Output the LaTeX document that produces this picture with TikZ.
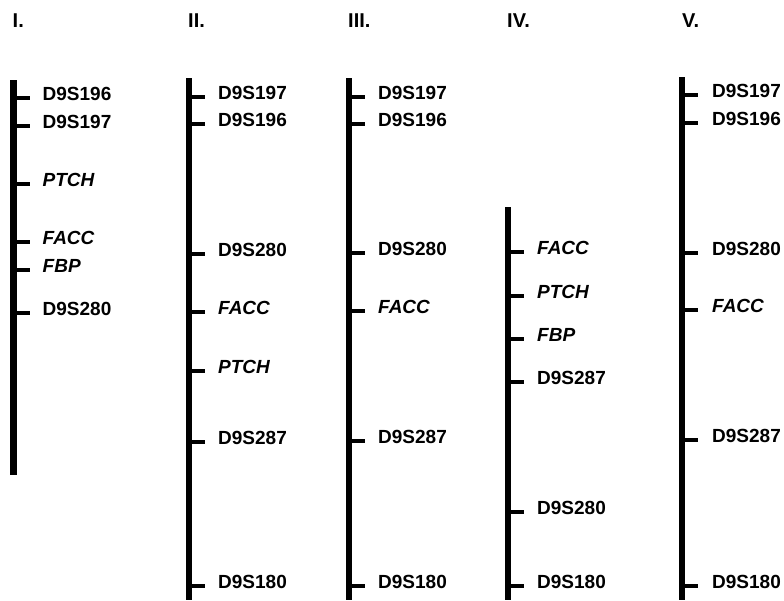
\documentclass[tikz,border=0pt]{standalone}
\usepackage{fontspec}
\setmainfont{Liberation Sans}
\usepackage{tikz}

\begin{document}
\begin{tikzpicture}[x=1pt,y=-1pt,
    bar/.style={line width=6.5pt},
    tick/.style={line width=3.2pt},
    marker/.style={anchor=base west,inner sep=0pt,font=\fontsize{19}{22}\selectfont\bfseries},
    gene/.style={marker,font=\fontsize{19}{22}\selectfont\bfseries\itshape},
    head/.style={anchor=base west,inner sep=0pt,font=\fontsize{20}{24}\selectfont\bfseries}]
    \useasboundingbox (0,0) rectangle (784,600);

    % Map I
    \begin{scope}[xshift=13.5pt]
        \node[head] (h1) at (-1,27) {I.};
        \draw[bar] (0,80) -- (0,475);
        \draw[tick] (0,98) -- (16,98);
        \draw[tick] (0,126) -- (16,126);
        \draw[tick] (0,184) -- (16,184);
        \draw[tick] (0,242) -- (16,242);
        \draw[tick] (0,270) -- (16,270);
        \draw[tick] (0,313) -- (16,313);
        \node[marker] (a1) at (29,100) {D9S196};
        \node[marker] (a2) at (29,128) {D9S197};
        \node[gene] (a3) at (29,186) {PTCH};
        \node[gene] (a4) at (29,244) {FACC};
        \node[gene] (a5) at (29,272) {FBP};
        \node[marker] (a6) at (29,315) {D9S280};
    \end{scope}

    % Map II
    \begin{scope}[xshift=189pt]
        \node[head] (h2) at (-1,27) {II.};
        \draw[bar] (0,78) -- (0,600);
        \draw[tick] (0,97) -- (16,97);
        \draw[tick] (0,124) -- (16,124);
        \draw[tick] (0,254) -- (16,254);
        \draw[tick] (0,312) -- (16,312);
        \draw[tick] (0,371) -- (16,371);
        \draw[tick] (0,442) -- (16,442);
        \draw[tick] (0,586) -- (16,586);
        \node[marker] (b1) at (29,99) {D9S197};
        \node[marker] (b2) at (29,126) {D9S196};
        \node[marker] (b3) at (29,256) {D9S280};
        \node[gene] (b4) at (29,314) {FACC};
        \node[gene] (b5) at (29,373) {PTCH};
        \node[marker] (b6) at (29,444) {D9S287};
        \node[marker] (b7) at (29,588) {D9S180};
    \end{scope}

    % Map III
    \begin{scope}[xshift=349pt]
        \node[head] (h3) at (-1,27) {III.};
        \draw[bar] (0,78) -- (0,600);
        \draw[tick] (0,97) -- (16,97);
        \draw[tick] (0,124) -- (16,124);
        \draw[tick] (0,253) -- (16,253);
        \draw[tick] (0,311) -- (16,311);
        \draw[tick] (0,441) -- (16,441);
        \draw[tick] (0,586) -- (16,586);
        \node[marker] (c1) at (29,99) {D9S197};
        \node[marker] (c2) at (29,126) {D9S196};
        \node[marker] (c3) at (29,255) {D9S280};
        \node[gene] (c4) at (29,313) {FACC};
        \node[marker] (c5) at (29,443) {D9S287};
        \node[marker] (c6) at (29,588) {D9S180};
    \end{scope}

    % Map IV
    \begin{scope}[xshift=508pt]
        \node[head] (h4) at (-1,27) {IV.};
        \draw[bar] (0,207) -- (0,600);
        \draw[tick] (0,252) -- (16,252);
        \draw[tick] (0,296) -- (16,296);
        \draw[tick] (0,339) -- (16,339);
        \draw[tick] (0,382) -- (16,382);
        \draw[tick] (0,512) -- (16,512);
        \draw[tick] (0,586) -- (16,586);
        \node[gene] (d1) at (29,254) {FACC};
        \node[gene] (d2) at (29,298) {PTCH};
        \node[gene] (d3) at (29,341) {FBP};
        \node[marker] (d4) at (29,384) {D9S287};
        \node[marker] (d5) at (29,514) {D9S280};
        \node[marker] (d6) at (29,588) {D9S180};
    \end{scope}

    % Map V
    \begin{scope}[xshift=682pt]
        \node[head] (h5) at (0,27) {V.};
        \draw[bar] (0,77) -- (0,600);
        \draw[tick] (0,95) -- (16,95);
        \draw[tick] (0,123) -- (16,123);
        \draw[tick] (0,253) -- (16,253);
        \draw[tick] (0,310) -- (16,310);
        \draw[tick] (0,440) -- (16,440);
        \draw[tick] (0,586) -- (16,586);
        \node[marker] (e1) at (30,97) {D9S197};
        \node[marker] (e2) at (30,125) {D9S196};
        \node[marker] (e3) at (30,255) {D9S280};
        \node[gene] (e4) at (30,312) {FACC};
        \node[marker] (e5) at (30,442) {D9S287};
        \node[marker] (e6) at (30,588) {D9S180};
    \end{scope}
\end{tikzpicture}
\end{document}
